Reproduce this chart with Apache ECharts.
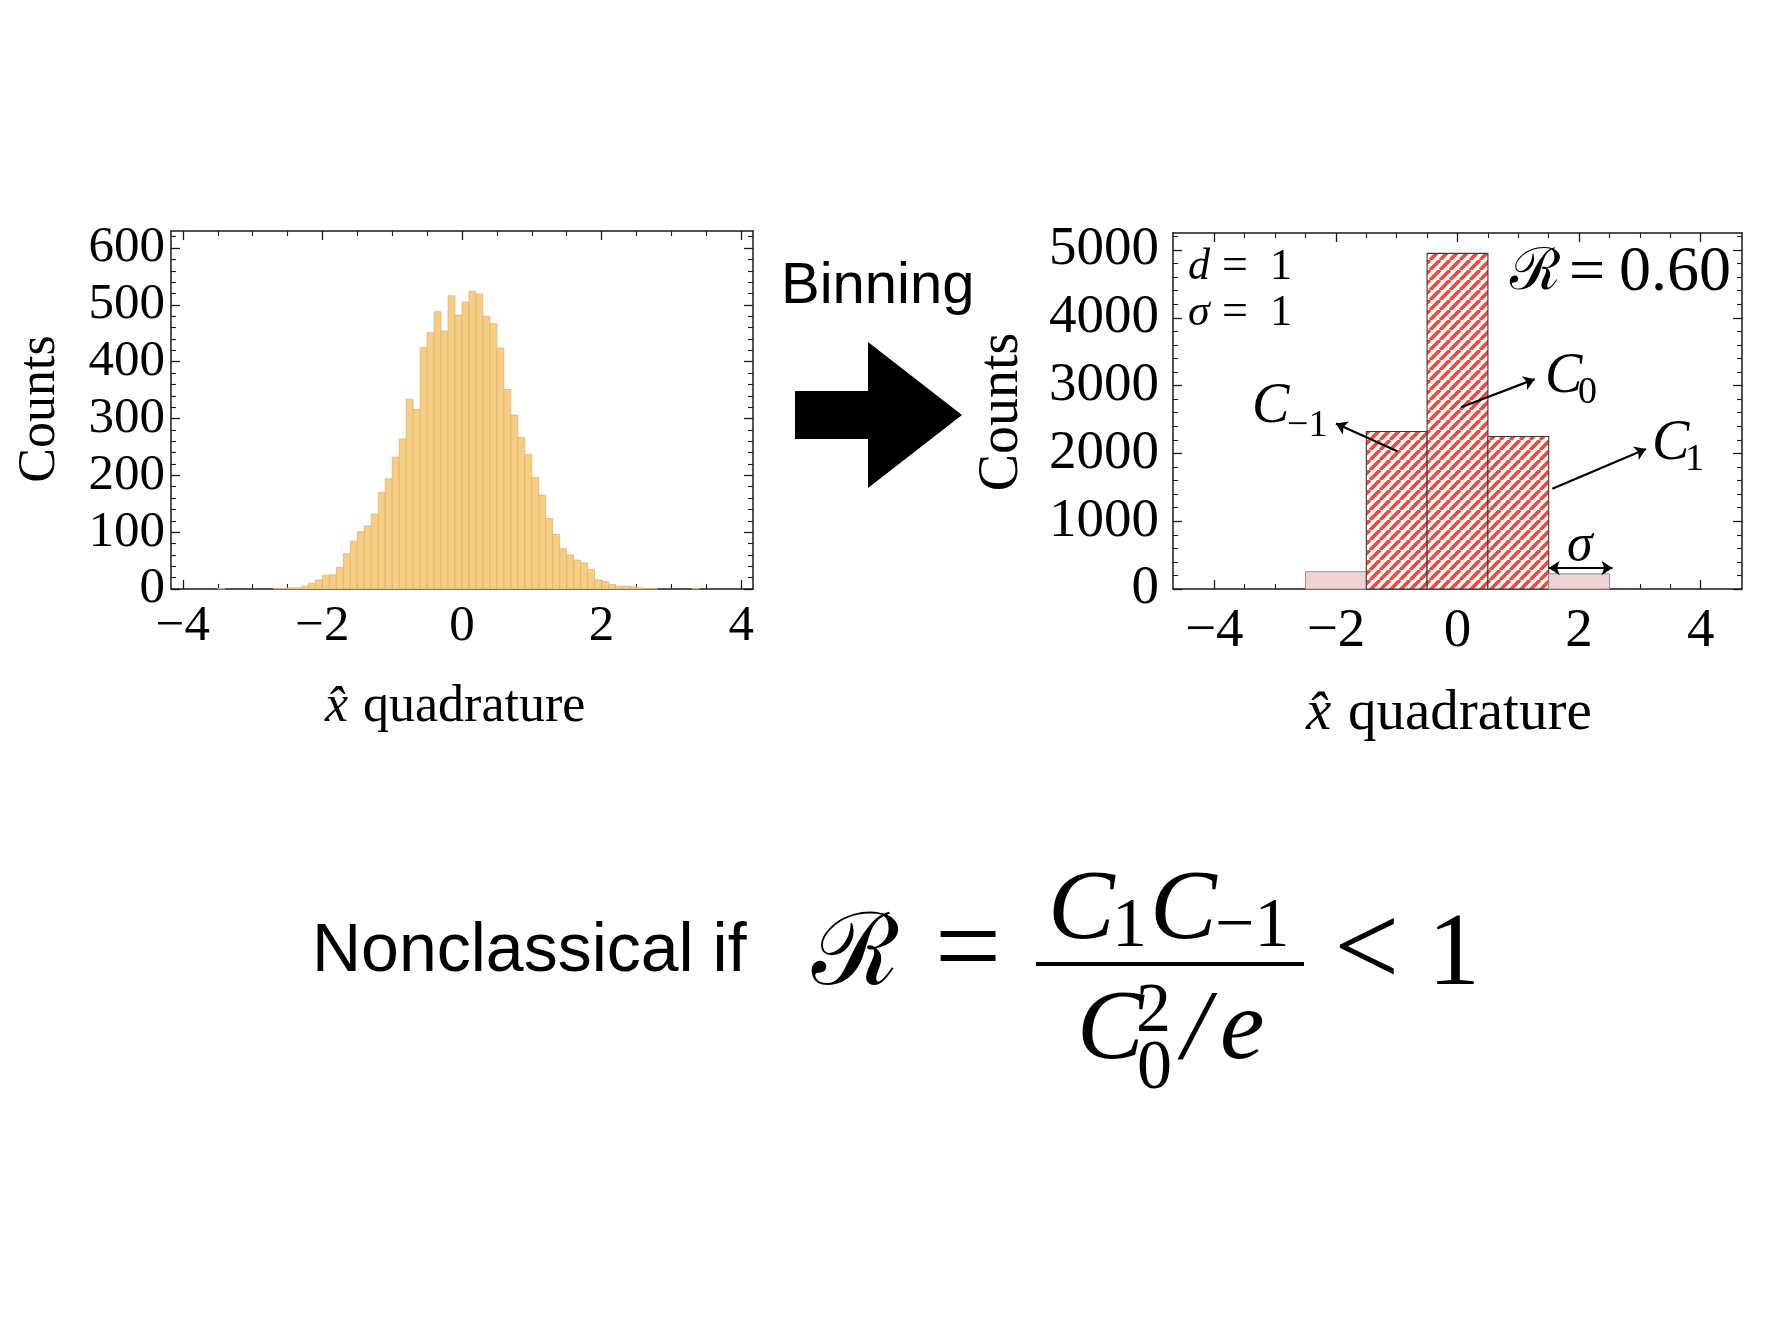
<!DOCTYPE html>
<html>
<head>
<meta charset="utf-8">
<script src="https://cdn.jsdelivr.net/npm/echarts@6/dist/echarts.min.js"></script>
<style>
html,body{margin:0;padding:0;background:#fff;}
#c{width:1768px;height:1322px;}
</style>
</head>
<body>
<div id="c"></div>
<script>
// ---------------- DATA ----------------
// left: raw histogram of x-quadrature samples (bin start, counts), bin width 0.1
const histBinStart = [-3.5,-2.7,-2.6,-2.5,-2.4,-2.3,-2.2,-2.1,-2.0,-1.9,-1.8,-1.7,-1.6,-1.5,-1.4,-1.3,-1.2,-1.1,-1.0,-0.9,-0.8,-0.7,-0.6,-0.5,-0.4,-0.3,-0.2,-0.1,0.0,0.1,0.2,0.3,0.4,0.5,0.6,0.7,0.8,0.9,1.0,1.1,1.2,1.3,1.4,1.5,1.6,1.7,1.8,1.9,2.0,2.1,2.2,2.3,2.4,2.5,2.6,2.7,3.3];
const histCounts   = [1,1,1,2,2,5,10,16,24,25,38,62,84,101,111,132,170,194,232,264,334,316,425,451,488,454,516,482,505,524,519,480,467,424,351,306,267,237,196,165,124,96,71,60,51,46,34,16,13,8,5,5,4,2,1,1,1];
const histBinWidth = 0.1;

// right: binned histogram (bin centre, counts), bin width sigma = 1
const binCenters = [-2, -1, 0, 1, 2];
const binCounts  = [255, 2323, 4950, 2250, 225];
const binWidth = 1;

// tick labels
const xTickLabels      = [-4, -2, 0, 2, 4];
const leftYTickLabels  = [0, 100, 200, 300, 400, 500, 600];
const rightYTickLabels = [0, 1000, 2000, 3000, 4000, 5000];

// annotation arrows on the right chart (data coordinates)
const arrowC_m1 = [[-0.99, 2030], [-2.0, 2440]];
const arrowC_0  = [[0.06, 2680], [1.27, 3095]];
const arrowC_1  = [[1.56, 1480], [3.10, 2065]];
const arrowSigma = [[1.5, 310], [2.55, 310]];
// --------------------------------------

const chart = echarts.init(document.getElementById('c'), null, {renderer: 'canvas'});

const SERIF = "'Liberation Serif','Times New Roman',serif";
const SANS = "'Liberation Sans',Arial,sans-serif";
const FRAME = '#1a1a1a';

function steps(a, b, s) { const out = []; for (let v = a; v <= b + 1e-9; v += s) out.push(Math.round(v * 1000) / 1000); return out; }
function minorOf(all, majors) { return all.filter(v => !majors.some(m => Math.abs(m - v) < 1e-9)); }

function frameAxes(dim, gridIndex, min, max, labels, minors, labelFont, labelMargin) {
  const pos = dim === 'x' ? ['bottom', 'top'] : ['left', 'right'];
  const fmt = v => (v < 0 ? '\u2212' + Math.abs(v) : String(v));
  const base = {type: 'value', gridIndex, min, max, splitLine: {show: false}, splitArea: {show: false}};
  const axes = [];
  pos.forEach((p, k) => {
    axes.push(Object.assign({}, base, {
      position: p,
      axisLine: {show: true, onZero: false, lineStyle: {color: FRAME, width: 1.5}},
      axisTick: {show: true, inside: true, length: 9, customValues: labels, lineStyle: {color: FRAME, width: 1.3}},
      axisLabel: k === 0 ? {show: true, customValues: labels, formatter: fmt, color: '#000', fontFamily: SERIF, fontSize: labelFont, margin: labelMargin} : {show: false}
    }));
    axes.push(Object.assign({}, base, {
      position: p,
      axisLine: {show: false, onZero: false},
      axisTick: {show: true, inside: true, length: 5, customValues: minors, lineStyle: {color: FRAME, width: 1.1}},
      axisLabel: {show: false}
    }));
  });
  return axes;
}

// hatch pattern for the C bins
function makeHatch() {
  const P = 10, c = document.createElement('canvas');
  c.width = P; c.height = P;
  const g = c.getContext('2d');
  g.fillStyle = '#ffffff'; g.fillRect(0, 0, P, P);
  g.strokeStyle = '#eb4a41'; g.lineWidth = 3.7;
  for (const k of [-P, 0, P]) { g.beginPath(); g.moveTo(k, P); g.lineTo(k + P, 0); g.stroke(); }
  return c;
}
const hatch = makeHatch();

const xMinor = minorOf(steps(-4, 4, 0.5), xTickLabels);
const leftYMinor = minorOf(steps(0, 620, 20), leftYTickLabels);
const rightYMinor = minorOf(steps(0, 5200, 200), rightYTickLabels);

const xAxes = [].concat(
  frameAxes('x', 0, -4.17, 4.17, xTickLabels, xMinor, 51, 12),
  frameAxes('x', 1, -4.68, 4.68, xTickLabels, xMinor, 55, 15)
);
const yAxes = [].concat(
  frameAxes('y', 0, 0, 630, leftYTickLabels, leftYMinor, 51, 6),
  frameAxes('y', 1, 0, 5250, rightYTickLabels, rightYMinor, 55, 14)
);

function T(text, x, y, font, extra) {
  return Object.assign({type: 'text', x, y, silent: true, z: 100,
    style: {text, font, fill: '#000', align: 'left', verticalAlign: 'middle', textAlign: 'left', textVerticalAlign: 'middle'}}, extra || {});
}
function TC(text, x, y, font, extra) {
  const t = T(text, x, y, font, extra);
  t.style.align = 'center'; t.style.textAlign = 'center';
  return t;
}

const F = 100, FS = 70;
const mathI = 'italic ' + F + 'px ' + SERIF;
const subR = FS + 'px ' + SERIF;
const scriptR = "'DejaVu Serif','Liberation Serif',serif";

const graphics = [
  // axis names
  Object.assign(TC('Counts', 40, 409, '52px ' + SERIF), {rotation: Math.PI / 2}),
  Object.assign(TC('Counts', 1002, 412, '56px ' + SERIF), {rotation: Math.PI / 2}),
  T('x\u0302', 325, 707, 'italic 52px ' + SERIF),
  T('quadrature', 363, 707, '52px ' + SERIF),
  T('x\u0302', 1306, 714, 'italic 57px ' + SERIF),
  T('quadrature', 1348, 714, '57px ' + SERIF),
  // Binning + arrow
  T('Binning', 781, 287, '58px ' + SANS),
  {type: 'polygon', silent: true, shape: {points: [[795, 391], [868, 391], [868, 342], [962, 415], [868, 488], [868, 439], [795, 439]]}, style: {fill: '#000'}},
  // right chart inset texts
  T('d', 1188, 267, 'italic 44px ' + SERIF),
  T('=', 1222, 267, '46px ' + SERIF),
  T('1', 1270, 267, '44px ' + SERIF),
  T('\u03C3', 1188, 313, 'italic 44px ' + SERIF),
  T('=', 1222, 313, '46px ' + SERIF),
  T('1', 1270, 313, '44px ' + SERIF),
  T('\u211B', 1510, 274, '58px ' + scriptR),
  T('=', 1569, 274, '64px ' + SERIF),
  T('0.60', 1619, 273, '64px ' + SERIF),
  // C labels
  T('C', 1252, 407, 'italic 56px ' + SERIF),
  T('\u22121', 1287, 426, '38px ' + SERIF),
  T('C', 1545, 377, 'italic 56px ' + SERIF),
  T('0', 1578, 393, '38px ' + SERIF),
  T('C', 1652, 444, 'italic 56px ' + SERIF),
  T('1', 1685, 460, '38px ' + SERIF),
  T('\u03C3', 1567, 546, 'italic 52px ' + SERIF),
  // bottom formula
  T('Nonclassical if', 312, 952, '68px ' + SANS),
  T('\u211B', 812, 958, F + 'px ' + scriptR),
  TC('=', 968, 955, '118px ' + SERIF),
  T('C', 1048, 912, mathI),
  T('1', 1112, 928, subR),
  T('C', 1150, 912, mathI),
  T('\u22121', 1215, 928, subR),
  {type: 'line', silent: true, shape: {x1: 1036, y1: 964, x2: 1304, y2: 964}, style: {stroke: '#000', lineWidth: 4}},
  T('C', 1077, 1032, mathI),
  T('2', 1136, 1013, subR),
  T('0', 1137, 1070, subR),
  T('/', 1182, 1032, mathI),
  T('e', 1220, 1032, mathI),
  T('<', 1334, 955, '116px ' + SERIF),
  T('1', 1428, 957, '104px ' + SERIF)
];

const option = {
  animation: false,
  backgroundColor: '#ffffff',
  grid: [
    {left: 171, top: 231, width: 582, height: 358, containLabel: false, outerBoundsMode: 'none'},
    {left: 1173, top: 233, width: 569, height: 356, containLabel: false, outerBoundsMode: 'none'}
  ],
  xAxis: xAxes,
  yAxis: yAxes,
  graphic: graphics,
  series: [
    {
      type: 'custom', xAxisIndex: 0, yAxisIndex: 0,
      data: histBinStart.map((s, i) => [s, s + histBinWidth, histCounts[i]]),
      encode: {x: [0, 1], y: 2},
      renderItem: function (params, api) {
        const p0 = api.coord([api.value(0), api.value(2)]);
        const p1 = api.coord([api.value(1), 0]);
        return {type: 'rect', shape: {x: p0[0], y: p0[1], width: p1[0] - p0[0], height: p1[1] - p0[1]},
          style: {fill: '#f6cd82', stroke: '#d8b271', lineWidth: 0.7}};
      }
    },
    {
      type: 'custom', xAxisIndex: 4, yAxisIndex: 4,
      data: binCenters.map((c, i) => [c - binWidth / 2, c + binWidth / 2, binCounts[i], c]),
      encode: {x: [0, 1], y: 2},
      renderItem: function (params, api) {
        const p0 = api.coord([api.value(0), api.value(2)]);
        const p1 = api.coord([api.value(1), 0]);
        const inner = Math.abs(api.value(3)) <= 1;
        return {type: 'rect', shape: {x: p0[0], y: p0[1], width: p1[0] - p0[0], height: p1[1] - p0[1]},
          style: inner ? {fill: {image: hatch, repeat: 'repeat'}, stroke: '#3a3a3a', lineWidth: 1.1}
                       : {fill: '#efd3d4', stroke: '#a89090', lineWidth: 1}};
      }
    },
    {
      type: 'lines', coordinateSystem: 'cartesian2d', xAxisIndex: 4, yAxisIndex: 4, z: 10,
      symbol: ['none', 'arrow'], symbolSize: 11,
      lineStyle: {color: '#000', width: 2.2, opacity: 1},
      data: [{coords: arrowC_m1}, {coords: arrowC_0}, {coords: arrowC_1}]
    },
    {
      type: 'lines', coordinateSystem: 'cartesian2d', xAxisIndex: 4, yAxisIndex: 4, z: 10,
      symbol: ['arrow', 'arrow'], symbolSize: 11,
      lineStyle: {color: '#000', width: 2.2, opacity: 1},
      data: [{coords: arrowSigma}]
    }
  ]
};
chart.setOption(option);
</script>
</body>
</html>
